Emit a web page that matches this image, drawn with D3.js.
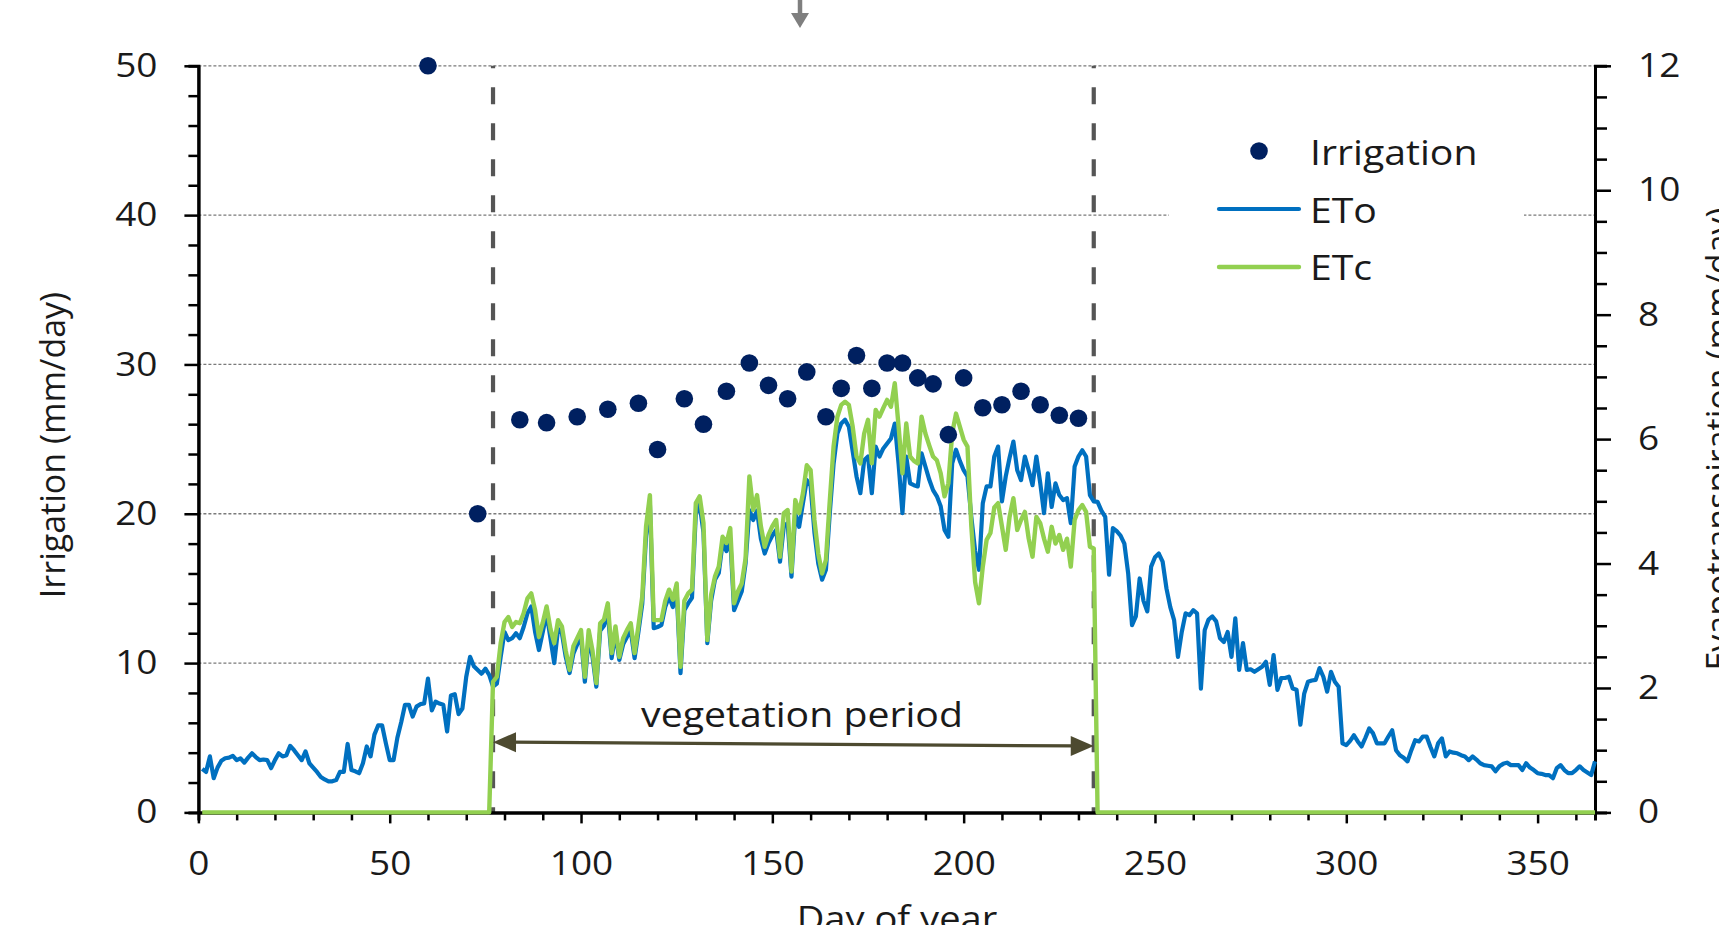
<!DOCTYPE html>
<html lang="en">
<head>
    <meta charset="UTF-8">
    <title>Irrigation and evapotranspiration</title>
    <script type="text/javascript" src="https://cdn.jsdelivr.net/npm/d3@7/dist/d3.min.js"></script>
    <style type="text/css">
        body { margin: 0; background: #ffffff; }
        text { font-family: "Open Sans", "Noto Sans", sans-serif; fill: #1a1a1a; }
    </style>
</head>
<body>
    <script type="text/javascript">
        //Width and height
        var w = 1719;
        var h = 925;

        //Irrigation events (day of year, mm/day)
        var irrDays = [60, 73, 84, 91, 99, 107, 115, 120, 127, 132, 138, 144, 149, 154, 159, 164,
            168, 172, 176, 180, 184, 188, 192, 196, 200, 205, 210, 215, 220, 225, 230];
        var irrValues = [50, 20, 26.3, 26.1, 26.5, 27.0, 27.4, 24.3, 27.7, 26.0, 28.2, 30.1, 28.6, 27.7, 29.5, 26.5,
            28.4, 30.6, 28.4, 30.1, 30.1, 29.1, 28.7, 25.3, 29.1, 27.1, 27.3, 28.2, 27.3, 26.6, 26.4];

        //Daily reference evapotranspiration ETo (mm/day), day 1..365
        var eto = [
            0.70, 0.65, 0.90, 0.55, 0.72, 0.83, 0.87, 0.88, 0.91, 0.84,
            0.87, 0.80, 0.88, 0.95, 0.89, 0.84, 0.85, 0.84, 0.71, 0.84,
            0.95, 0.90, 0.92, 1.07, 1.00, 0.92, 0.84, 0.98, 0.79, 0.72,
            0.65, 0.57, 0.53, 0.50, 0.50, 0.52, 0.65, 0.65, 1.10, 0.68,
            0.66, 0.63, 0.79, 1.06, 0.90, 1.25, 1.40, 1.40, 1.11, 0.84,
            0.84, 1.20, 1.45, 1.73, 1.73, 1.54, 1.70, 1.74, 1.75, 2.15,
            1.64, 1.78, 1.75, 1.73, 1.30, 1.88, 1.90, 1.58, 1.67, 2.18,
            2.50, 2.35, 2.29, 2.23, 2.31, 2.21, 2.02, 2.07, 2.50, 2.90,
            2.77, 2.80, 2.88, 2.80, 2.98, 3.20, 3.31, 2.90, 2.61, 2.90,
            3.20, 2.80, 2.40, 2.95, 2.88, 2.50, 2.24, 2.55, 2.70, 2.82,
            2.10, 2.80, 2.50, 2.02, 2.92, 3.00, 3.22, 2.48, 2.88, 2.45,
            2.70, 2.82, 2.92, 2.48, 2.90, 3.35, 4.45, 4.95, 2.96, 2.98,
            3.01, 3.30, 3.47, 3.30, 3.55, 2.24, 3.25, 3.36, 3.45, 4.80,
            4.95, 4.50, 2.72, 3.40, 3.74, 3.85, 4.33, 4.20, 4.40, 3.25,
            3.40, 3.55, 4.00, 4.86, 4.70, 4.85, 4.40, 4.16, 4.33, 4.45,
            4.54, 4.03, 4.60, 4.65, 3.79, 4.80, 4.59, 4.97, 5.34, 5.25,
            4.50, 4.00, 3.74, 3.90, 4.80, 5.60, 6.09, 6.25, 6.31, 6.20,
            5.80, 5.40, 5.13, 5.66, 5.72, 5.13, 5.88, 5.72, 5.85, 5.93,
            6.01, 6.25, 5.60, 4.81, 5.72, 5.29, 5.26, 5.24, 5.77, 5.56,
            5.35, 5.18, 5.08, 4.92, 4.54, 4.43, 5.61, 5.83, 5.65, 5.50,
            5.40, 4.75, 4.20, 3.90, 4.97, 5.24, 5.24, 5.72, 5.88, 5.00,
            5.40, 5.70, 5.96, 5.50, 5.34, 5.72, 5.50, 5.26, 5.72, 5.30,
            4.81, 5.45, 4.91, 5.29, 5.10, 5.02, 5.05, 4.65, 5.56, 5.72,
            5.82, 5.72, 5.10, 5.00, 4.99, 4.85, 4.75, 3.82, 4.57, 4.52,
            4.45, 4.32, 3.84, 3.01, 3.15, 3.76, 3.40, 3.23, 3.95, 4.10,
            4.16, 4.03, 3.60, 3.30, 3.09, 2.50, 2.90, 3.20, 3.17, 3.25,
            3.20, 1.99, 2.93, 3.10, 3.15, 3.07, 2.80, 2.74, 2.90, 2.50,
            3.12, 2.29, 2.72, 2.29, 2.30, 2.26, 2.30, 2.34, 2.42, 2.05,
            2.53, 1.97, 2.16, 2.16, 2.18, 1.99, 1.97, 1.41, 1.91, 2.10,
            2.12, 2.13, 2.32, 2.18, 1.94, 2.26, 2.10, 2.02, 1.11, 1.08,
            1.15, 1.24, 1.14, 1.06, 1.20, 1.35, 1.27, 1.11, 1.11, 1.11,
            1.22, 1.32, 1.00, 0.92, 0.88, 0.82, 1.00, 1.16, 1.14, 1.22,
            1.22, 1.05, 0.90, 1.11, 1.19, 0.90, 0.98, 0.96, 0.95, 0.92,
            0.90, 0.84, 0.90, 0.85, 0.79, 0.76, 0.75, 0.74, 0.66, 0.74,
            0.78, 0.80, 0.76, 0.76, 0.76, 0.68, 0.79, 0.72, 0.68, 0.63,
            0.62, 0.60, 0.60, 0.55, 0.71, 0.76, 0.68, 0.63, 0.63, 0.68,
            0.74, 0.68, 0.64, 0.60, 0.82 ];

        //Daily crop evapotranspiration ETc (mm/day), day 1..365
        var etc = [
            0, 0, 0, 0, 0, 0, 0, 0, 0, 0, 0, 0, 0, 0, 0, 0, 0, 0, 0, 0,
            0, 0, 0, 0, 0, 0, 0, 0, 0, 0, 0, 0, 0, 0, 0, 0, 0, 0, 0, 0,
            0, 0, 0, 0, 0, 0, 0, 0, 0, 0, 0, 0, 0, 0, 0, 0, 0, 0, 0, 0,
            0, 0, 0, 0, 0, 0, 0, 0, 0, 0, 0, 0, 0, 0, 0, 0,
            2.10, 2.18, 2.72, 3.06,
            3.14, 2.98, 3.06, 3.04, 3.20, 3.44, 3.52, 3.25, 2.82, 3.05,
            3.31, 2.95, 2.72, 3.09, 2.99, 2.60, 2.29, 2.67, 2.80, 2.93,
            2.18, 2.93, 2.60, 2.08, 3.04, 3.10, 3.36, 2.56, 2.99, 2.50,
            2.80, 2.93, 3.04, 2.56, 3.00, 3.47, 4.60, 5.10, 3.09, 3.09,
            3.09, 3.40, 3.58, 3.42, 3.68, 2.34, 3.40, 3.52, 3.58, 4.97,
            5.08, 4.65, 2.77, 3.50, 3.79, 3.95, 4.43, 4.33, 4.57, 3.36,
            3.55, 3.68, 4.08, 5.40, 4.86, 5.10, 4.60, 4.27, 4.46, 4.60,
            4.70, 4.11, 4.81, 4.86, 3.87, 5.02, 4.81, 5.13, 5.58, 5.50,
            4.70, 4.16, 3.84, 4.06, 5.00, 5.88, 6.36, 6.55, 6.60, 6.55,
            6.20, 5.72, 5.61, 6.09, 6.31, 5.61, 6.47, 6.36, 6.50, 6.63,
            6.52, 6.90, 6.20, 5.45, 6.25, 5.72, 5.65, 5.61, 6.36, 6.09,
            5.90, 5.72, 5.66, 5.45, 5.08, 5.29, 6.09, 6.41, 6.20, 5.99,
            5.88, 4.60, 3.70, 3.36, 3.95, 4.38, 4.49, 4.90, 4.97, 4.60,
            4.22, 4.75, 5.05, 4.54, 4.70, 4.83, 4.40, 4.11, 4.75, 4.65,
            4.40, 4.19, 4.59, 4.32, 4.46, 4.22, 4.40, 3.95, 4.70, 4.86,
            4.94, 4.83, 4.27, 4.24,
            0, 0, 0, 0, 0, 0, 0, 0, 0, 0, 0, 0, 0, 0, 0, 0, 0, 0, 0, 0,
            0, 0, 0, 0, 0, 0, 0, 0, 0, 0, 0, 0, 0, 0, 0, 0, 0, 0, 0, 0,
            0, 0, 0, 0, 0, 0, 0, 0, 0, 0, 0, 0, 0, 0, 0, 0, 0, 0, 0, 0,
            0, 0, 0, 0, 0, 0, 0, 0, 0, 0, 0, 0, 0, 0, 0, 0, 0, 0, 0, 0,
            0, 0, 0, 0, 0, 0, 0, 0, 0, 0, 0, 0, 0, 0, 0, 0, 0, 0, 0, 0,
            0, 0, 0, 0, 0, 0, 0, 0, 0, 0, 0, 0, 0, 0, 0, 0, 0, 0, 0, 0,
            0, 0, 0, 0, 0, 0, 0, 0, 0, 0, 0 ];

        //Vegetation period (start and end day) and its arrow height (irrigation units)
        var vegPeriod = [77, 234];
        var vegArrowY = [4.7, 4.45];

        //Tick values
        var xTicks = [0, 50, 100, 150, 200, 250, 300, 350];
        var yLeftTicks = [0, 10, 20, 30, 40, 50];
        var yRightTicks = [0, 2, 4, 6, 8, 10, 12];

        //horizontal text looks a bit wider in the original
        var textStretch = 1.12;

        //Scales
        var xScale = d3.scaleLinear().domain([0, 365]).range([198.4, 1595]);
        var yLeft = d3.scaleLinear().domain([0, 50]).range([812.4, 65.8]);
        var yRight = d3.scaleLinear().domain([0, 12]).range([812.4, 65.8]);

        var svg = d3.select("body")
            .append("svg")
            .attr("width", w)
            .attr("height", h);

        //Gridlines
        svg.append("g")
            .selectAll("line")
            .data(yLeftTicks.slice(1))
            .enter()
            .append("line")
            .attr("x1", xScale(0))
            .attr("x2", xScale(365))
            .attr("y1", function(d) { return yLeft(d); })
            .attr("y2", function(d) { return yLeft(d); })
            .attr("stroke", "#7a7a7a")
            .attr("stroke-width", 1.3)
            .attr("stroke-dasharray", "3,2");

        //Legend background hides the gridline behind it
        svg.append("rect")
            .attr("x", 1169)
            .attr("y", 118)
            .attr("width", 355)
            .attr("height", 172)
            .attr("fill", "#ffffff");

        //Vertical dashed lines at start and end of vegetation period
        svg.append("g")
            .selectAll("line")
            .data(vegPeriod)
            .enter()
            .append("line")
            .attr("x1", function(d) { return xScale(d); })
            .attr("x2", function(d) { return xScale(d); })
            .attr("y1", yLeft(50))
            .attr("y2", yLeft(0))
            .attr("stroke", "#555555")
            .attr("stroke-width", 4.2)
            .attr("stroke-dasharray", "17,19")
            .attr("stroke-dashoffset", 14.5);

        //Minor ticks
        svg.append("g")
            .attr("transform", "translate(" + xScale(0) + ",0)")
            .call(d3.axisLeft(yLeft).tickValues(d3.range(2, 50, 2).filter(function(d) { return d % 10 != 0; }))
                .tickSize(10).tickFormat(""))
            .call(styleAxis);
        svg.append("g")
            .attr("transform", "translate(" + xScale(365) + ",0)")
            .call(d3.axisRight(yRight).tickValues(d3.range(0.5, 12, 0.5).filter(function(d) { return d % 2 != 0; }))
                .tickSize(12).tickFormat(""))
            .call(styleAxis);
        svg.append("g")
            .attr("transform", "translate(0," + yLeft(0) + ")")
            .call(d3.axisBottom(xScale).tickValues(d3.range(10, 365, 10).filter(function(d) { return d % 50 != 0; }))
                .tickSize(8).tickFormat(""))
            .call(styleAxis);

        //Major axes
        svg.append("g")
            .attr("transform", "translate(" + xScale(0) + ",0)")
            .call(d3.axisLeft(yLeft).tickValues(yLeftTicks).tickSize(14).tickSizeOuter(0).tickPadding(27))
            .call(styleAxis);
        svg.append("g")
            .attr("transform", "translate(" + xScale(365) + ",0)")
            .call(d3.axisRight(yRight).tickValues(yRightTicks).tickSize(16).tickSizeOuter(0).tickPadding(27))
            .call(styleAxis);
        svg.append("g")
            .attr("transform", "translate(0," + yLeft(0) + ")")
            .call(d3.axisBottom(xScale).tickValues(xTicks).tickSize(11).tickSizeOuter(0).tickPadding(28))
            .call(styleAxis);

        function styleAxis(g) {
            g.select(".domain").attr("stroke", "#000").attr("stroke-width", 3);
            g.selectAll(".tick line").attr("stroke", "#000").attr("stroke-width", 2.5);
            g.selectAll(".tick text")
                .attr("class", "htext")
                .attr("font-family", "Open Sans")
                .attr("font-size", "33px")
                .attr("fill", "#1a1a1a");
        }

        //Lines
        var line = function(scale) {
            return d3.line()
                .x(function(d, i) { return xScale(i + 1); })
                .y(function(d) { return scale(d); });
        };

        svg.append("path")
            .datum(eto)
            .attr("d", line(yRight))
            .attr("fill", "none")
            .attr("stroke", "#0070c0")
            .attr("stroke-width", 4.2)
            .attr("stroke-linejoin", "round");

        svg.append("path")
            .datum(etc)
            .attr("d", line(yRight))
            .attr("fill", "none")
            .attr("stroke", "#92d050")
            .attr("stroke-width", 4.4)
            .attr("stroke-linejoin", "round");

        //Irrigation dots
        svg.append("g")
            .selectAll("circle")
            .data(irrDays)
            .enter()
            .append("circle")
            .attr("cx", function(d) { return xScale(d); })
            .attr("cy", function(d, i) { return yLeft(irrValues[i]); })
            .attr("r", 8.8)
            .attr("fill", "#002060");

        //Vegetation period arrow
        var arrowCol = "#4d4a30";
        var ax1 = xScale(vegPeriod[0]), ax2 = xScale(vegPeriod[1]);
        var ay1 = yLeft(vegArrowY[0]), ay2 = yLeft(vegArrowY[1]);
        svg.append("line")
            .attr("x1", ax1 + 18).attr("y1", ay1)
            .attr("x2", ax2 - 18).attr("y2", ay2)
            .attr("stroke", arrowCol)
            .attr("stroke-width", 3.2);
        svg.append("path")
            .attr("d", "M" + ax1 + "," + ay1 + "L" + (ax1 + 23) + "," + (ay1 - 10) + "L" + (ax1 + 23) + "," + (ay1 + 10) + "Z")
            .attr("fill", arrowCol);
        svg.append("path")
            .attr("d", "M" + ax2 + "," + ay2 + "L" + (ax2 - 23) + "," + (ay2 - 10) + "L" + (ax2 - 23) + "," + (ay2 + 10) + "Z")
            .attr("fill", arrowCol);

        svg.append("text")
            .attr("class", "htext")
            .attr("x", 802)
            .attr("y", 727)
            .attr("text-anchor", "middle")
            .attr("font-size", "35px")
            .text("vegetation period");

        //Small arrow at top
        svg.append("line")
            .attr("x1", 800).attr("y1", 0)
            .attr("x2", 800).attr("y2", 14)
            .attr("stroke", "#7f7f7f")
            .attr("stroke-width", 4.5);
        svg.append("path")
            .attr("d", "M791,13L809,13L800,28Z")
            .attr("fill", "#7f7f7f");

        //Axis titles
        svg.append("text")
            .attr("transform", "translate(65,445) rotate(-90)")
            .attr("text-anchor", "middle")
            .attr("font-size", "34px")
            .text("Irrigation (mm/day)");

        svg.append("text")
            .attr("transform", "translate(1731,439) rotate(-90)")
            .attr("text-anchor", "middle")
            .attr("font-size", "34px")
            .text("Evapotranspiration (mm/day)");

        svg.append("text")
            .attr("class", "htext")
            .attr("x", 897)
            .attr("y", 931)
            .attr("text-anchor", "middle")
            .attr("font-size", "34px")
            .text("Day of year");

        //Legend
        svg.append("circle")
            .attr("cx", 1259).attr("cy", 151).attr("r", 8.8)
            .attr("fill", "#002060");
        svg.append("line")
            .attr("x1", 1219).attr("x2", 1299).attr("y1", 209).attr("y2", 209)
            .attr("stroke", "#0070c0").attr("stroke-width", 4.2).attr("stroke-linecap", "round");
        svg.append("line")
            .attr("x1", 1219).attr("x2", 1299).attr("y1", 267).attr("y2", 267)
            .attr("stroke", "#92d050").attr("stroke-width", 4.4).attr("stroke-linecap", "round");

        var legendLabels = ["Irrigation", "ETo", "ETc"];
        svg.append("g")
            .selectAll("text")
            .data(legendLabels)
            .enter()
            .append("text")
            .attr("class", "htext")
            .attr("x", 1310)
            .attr("y", function(d, i) { return 165 + i * 57.5; })
            .attr("font-size", "35px")
            .text(function(d) { return d; });

        //Widen horizontal texts a little
        svg.selectAll(".htext").each(function() {
            var len = this.getComputedTextLength();
            d3.select(this)
                .attr("textLength", len * textStretch)
                .attr("lengthAdjust", "spacingAndGlyphs");
        });
    </script>
</body>
</html>
